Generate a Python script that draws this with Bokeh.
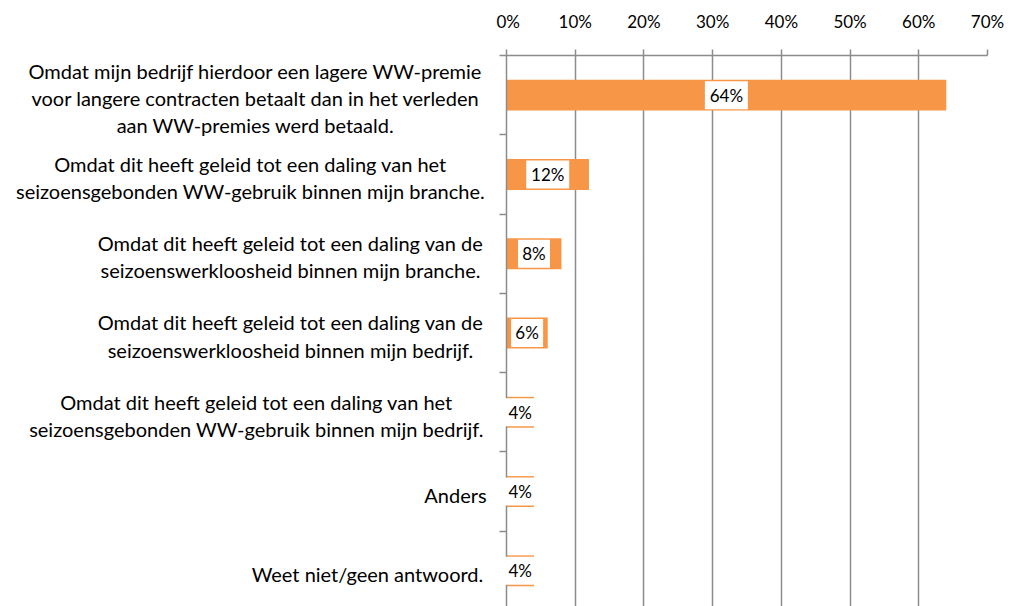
from bokeh.plotting import figure
from bokeh.layouts import row
from bokeh.models import Range1d, FixedTicker, PrintfTickFormatter
from bokeh.core.properties import value
from bokeh.embed import file_html
from bokeh.resources import INLINE

categories = [
    "Omdat mijn bedrijf hierdoor een lagere WW-premie\nvoor langere contracten betaalt dan in het verleden\naan WW-premies werd betaald.",
    "Omdat dit heeft geleid tot een daling van het\nseizoensgebonden WW-gebruik binnen mijn branche.",
    "Omdat dit heeft geleid tot een daling van de\nseizoenswerkloosheid binnen mijn branche.",
    "Omdat dit heeft geleid tot een daling van de\nseizoenswerkloosheid binnen mijn bedrijf.",
    "Omdat dit heeft geleid tot een daling van het\nseizoensgebonden WW-gebruik binnen mijn bedrijf.",
    "Anders",
    "Weet niet/geen antwoord.",
]
percentages = [64, 12, 8, 6, 4, 4, 4]
x_ticks = [0, 10, 20, 30, 40, 50, 60, 70]

# layout constants (pixels)
LABEL_CX = [255, 250, 290, 290, 256, 455, 367]
FONT = "Lato"
GRAY = "#8c8c8c"
ORANGE = "#F79646"

ypos = list(range(len(categories)))
bar_labels = [f"{v:.0f}%" for v in percentages]
mids = [v / 2 for v in percentages]
box_w = [21 + 11 * (len(s) - 1) for s in bar_labels]

y_range = Range1d(6.45, -0.5)

left = figure(width=496, height=606, x_range=Range1d(0, 496), y_range=y_range,
              x_axis_type=None, y_axis_type=None, output_backend="svg",
              toolbar_location=None, min_border_left=0, min_border_right=0,
              min_border_top=55, min_border_bottom=0)
left.grid.visible = False
left.outline_line_color = None
left.text(x=LABEL_CX, y=ypos, text=categories, text_align="center",
          text_baseline="middle", text_font=value(FONT), text_font_size="20px",
          text_line_height=1.13, text_color="#000000", y_offset=3)

p = figure(width=519, height=606, x_range=Range1d(0, 70), y_range=y_range,
           x_axis_location="above", output_backend="svg", toolbar_location=None,
           min_border_left=10, min_border_right=28, min_border_top=55,
           min_border_bottom=0)
p.outline_line_color = None

xa = p.xaxis[0]
xa.ticker = FixedTicker(ticks=x_ticks)
xa.formatter = PrintfTickFormatter(format="%d%%")
xa.axis_line_color = GRAY
xa.axis_line_width = 1.5
xa.major_tick_line_color = GRAY
xa.major_tick_line_width = 1.5
xa.major_tick_out = 6
xa.major_tick_in = 0
xa.minor_tick_out = 0
xa.minor_tick_in = 0
xa.major_label_standoff = 18
xa.major_label_text_font = FONT
xa.major_label_text_font_size = "17px"
xa.major_label_text_color = "#000000"

ya = p.yaxis[0]
bounds = [i - 0.5 for i in range(len(categories) + 1)]
ya.ticker = FixedTicker(ticks=bounds)
ya.major_label_overrides = {b: "" for b in bounds}
ya.major_label_standoff = 0
ya.axis_line_color = GRAY
ya.axis_line_width = 1.5
ya.major_tick_line_color = GRAY
ya.major_tick_line_width = 1.5
ya.major_tick_out = 7
ya.major_tick_in = 0
ya.minor_tick_out = 0
ya.minor_tick_in = 0

p.xgrid.grid_line_color = GRAY
p.xgrid.grid_line_width = 1.5
p.ygrid.visible = False

p.hbar(y=ypos, left=0, right=percentages, height=0.39, fill_color=ORANGE,
       line_color=None)
p.rect(x=mids, y=ypos, width=box_w, height=28, width_units="screen",
       height_units="screen", fill_color="white", line_color=None,
       level="annotation")
p.text(x=mids, y=ypos, text=bar_labels, text_align="center",
       text_baseline="middle", text_font=value(FONT), text_font_size="17px",
       text_color="#000000", level="annotation")

layout = row(left, p)
open("out.html", "w").write(file_html(layout, INLINE))
